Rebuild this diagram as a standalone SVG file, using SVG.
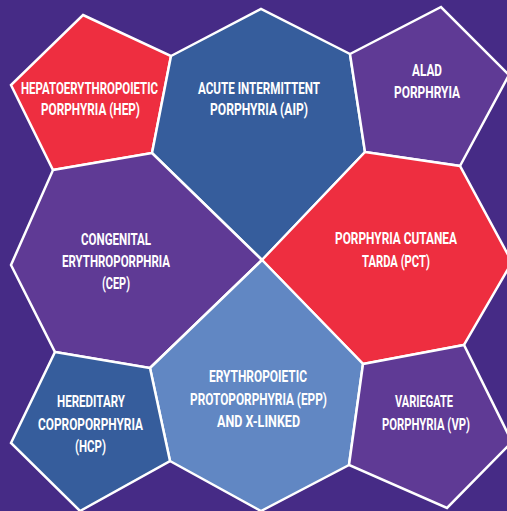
<svg xmlns="http://www.w3.org/2000/svg" width="507" height="511" viewBox="0 0 507 511">
<style>
.cell{stroke:#ffffff;stroke-width:2.5;stroke-linejoin:miter}
.red{fill:#ee2e40}
.blue{fill:#365d9c}
.purple{fill:#5f3a95}
.light{fill:#6187c3}
text{font-family:"Roboto","Liberation Sans",sans-serif;font-weight:bold;font-size:17px;fill:#ffffff;text-anchor:middle}
</style>
<rect x="0" y="0" width="507" height="511" fill="#462b86"/>
<g id="hep">
<polygon class="cell red" points="83,15 171,56 152,153 53,170 11,85"/>
<text transform="translate(89.5,0) scale(0.72,1)" x="0" y="94" textLength="190.3" lengthAdjust="spacingAndGlyphs">HEPATOERYTHROPOIETIC</text>
<text transform="translate(90.5,0) scale(0.72,1)" x="0" y="115.5" textLength="137.5" lengthAdjust="spacingAndGlyphs">PORPHYRIA (HEP)</text>
</g>
<g id="aip">
<polygon class="cell blue" points="171,56 261,9 350,54 365,152 262,260 152,153"/>
<text transform="translate(259,0) scale(0.72,1)" x="0" y="94" textLength="169.4" lengthAdjust="spacingAndGlyphs">ACUTE INTERMITTENT</text>
<text transform="translate(259,0) scale(0.72,1)" x="0" y="115.5" textLength="136.1" lengthAdjust="spacingAndGlyphs">PORPHYRIA (AIP)</text>
</g>
<g id="alad">
<polygon class="cell purple" points="350,54 441,7 509,75 460,166 365,152"/>
<text transform="translate(427,0) scale(0.72,1)" x="0" y="76" textLength="41.7" lengthAdjust="spacingAndGlyphs">ALAD</text>
<text transform="translate(427,0) scale(0.72,1)" x="0" y="98" textLength="91.7" lengthAdjust="spacingAndGlyphs">PORPHRYIA</text>
</g>
<g id="pct">
<polygon class="cell red" points="262,260 365,152 460,166 512,262 464,345 363,364"/>
<text transform="translate(396,0) scale(0.72,1)" x="0" y="244.5" textLength="169.4" lengthAdjust="spacingAndGlyphs">PORPHYRIA CUTANEA</text>
<text transform="translate(396,0) scale(0.72,1)" x="0" y="267" textLength="94.4" lengthAdjust="spacingAndGlyphs">TARDA (PCT)</text>
</g>
<g id="cep">
<polygon class="cell purple" points="53,170 152,153 262,260 150,368 55,352 11,265"/>
<text transform="translate(116,0) scale(0.72,1)" x="0" y="245" textLength="97.2" lengthAdjust="spacingAndGlyphs">CONGENITAL</text>
<text transform="translate(116,0) scale(0.72,1)" x="0" y="267" textLength="150" lengthAdjust="spacingAndGlyphs">ERYTHROPORPHRIA</text>
<text transform="translate(116,0) scale(0.72,1)" x="0" y="289" textLength="38.9" lengthAdjust="spacingAndGlyphs">(CEP)</text>
</g>
<g id="epp">
<polygon class="cell light" points="262,260 363,364 349,465 261,511 170,461 150,368"/>
<text transform="translate(258,0) scale(0.72,1)" x="0" y="382" textLength="136.1" lengthAdjust="spacingAndGlyphs">ERYTHROPOIETIC</text>
<text transform="translate(258.5,0) scale(0.72,1)" x="0" y="405" textLength="190.3" lengthAdjust="spacingAndGlyphs">PROTOPORPHYRIA (EPP)</text>
<text transform="translate(258.5,0) scale(0.72,1)" x="0" y="427" textLength="115.3" lengthAdjust="spacingAndGlyphs">AND X-LINKED</text>
</g>
<g id="hcp">
<polygon class="cell blue" points="55,352 150,368 170,461 80,511 11,443"/>
<text transform="translate(91,0) scale(0.72,1)" x="0" y="407" textLength="94.4" lengthAdjust="spacingAndGlyphs">HEREDITARY</text>
<text transform="translate(90.5,0) scale(0.72,1)" x="0" y="430" textLength="145.8" lengthAdjust="spacingAndGlyphs">COPROPORPHYRIA</text>
<text transform="translate(90.5,0) scale(0.72,1)" x="0" y="452" textLength="43.1" lengthAdjust="spacingAndGlyphs">(HCP)</text>
</g>
<g id="vp">
<polygon class="cell purple" points="363,364 464,345 512,442 447,508 349,465"/>
<text transform="translate(424,0) scale(0.72,1)" x="0" y="407" textLength="80.6" lengthAdjust="spacingAndGlyphs">VARIEGATE</text>
<text transform="translate(426,0) scale(0.72,1)" x="0" y="430" textLength="122.2" lengthAdjust="spacingAndGlyphs">PORPHYRIA (VP)</text>
</g>
</svg>
